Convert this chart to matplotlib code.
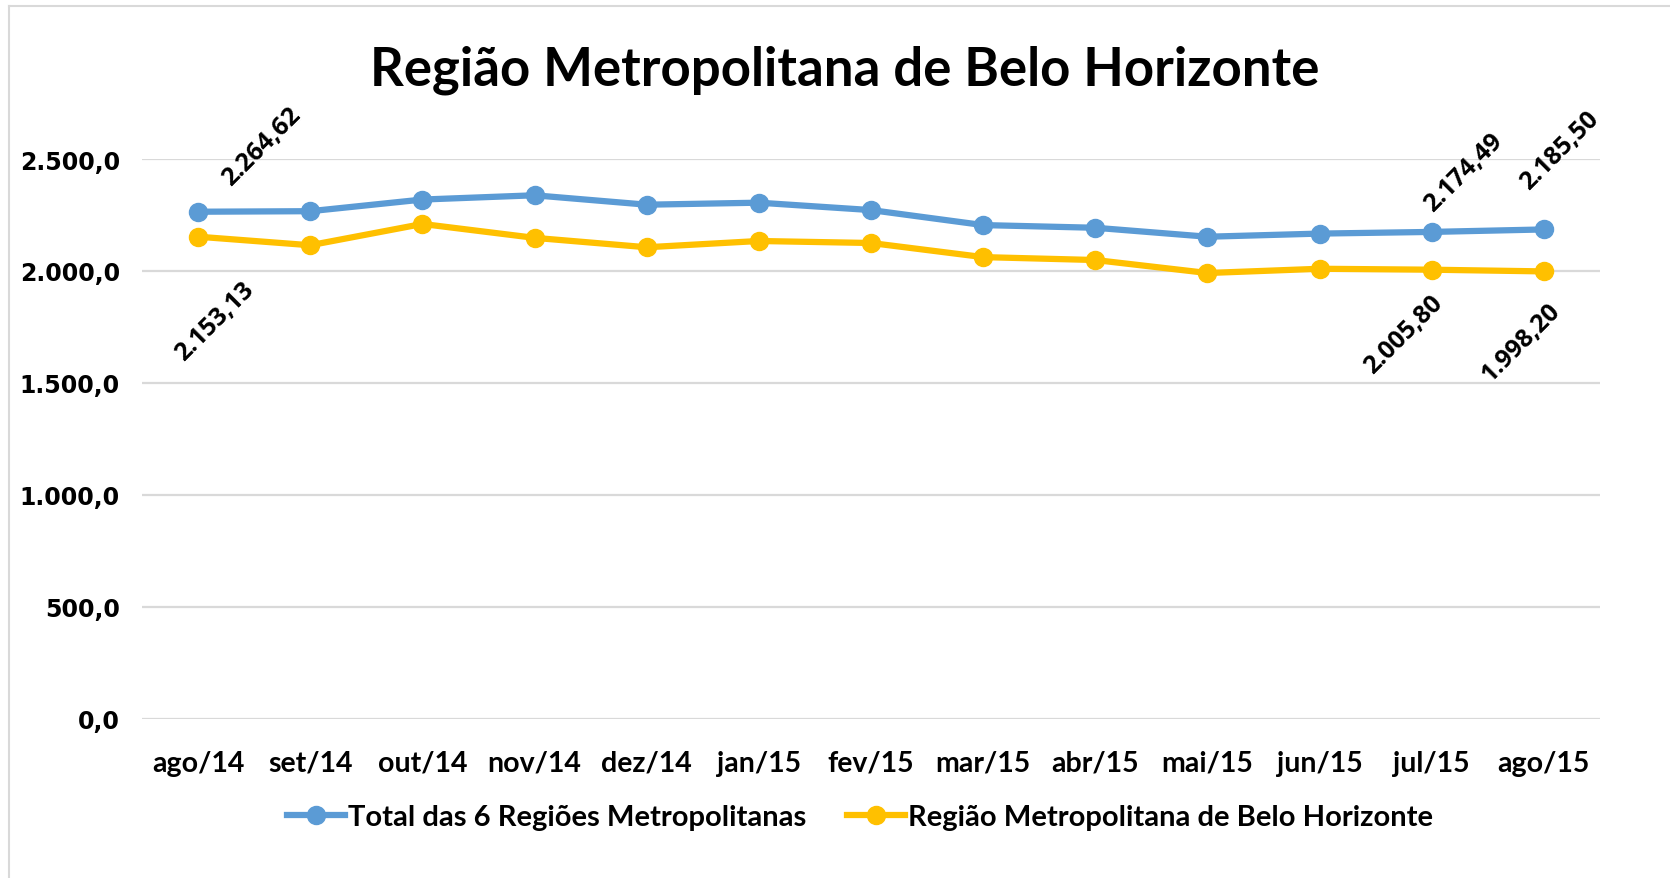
import matplotlib
matplotlib.use("Agg")
import matplotlib.pyplot as plt
from matplotlib.lines import Line2D
from matplotlib.ticker import FuncFormatter, MultipleLocator

# meses e séries (rendimento médio, R$)
meses = ["ago/14", "set/14", "out/14", "nov/14", "dez/14", "jan/15", "fev/15",
         "mar/15", "abr/15", "mai/15", "jun/15", "jul/15", "ago/15"]
total_6_rm = [2264.62, 2267, 2319, 2338, 2296, 2305, 2272,
              2205, 2193, 2153, 2167, 2174.49, 2185.50]
rm_bh = [2153.13, 2115, 2210, 2148, 2106, 2134, 2125,
         2062, 2049, 1991, 2010, 2005.80, 1998.20]

serie_nomes = ["Total das 6 Regiões Metropolitanas",
               "Região Metropolitana de Belo Horizonte"]
titulo = "Região Metropolitana de Belo Horizonte"

AZUL = "#5B9BD5"
AMARELO = "#FFC000"


def fmt_br(v, casas):
    s = f"{v:,.{casas}f}"
    return s.replace(",", "X").replace(".", ",").replace("X", ".")


fig = plt.figure(figsize=(16.7, 8.79), dpi=100)
ax = fig.add_axes([142 / 1670, 1 - 720 / 879, (1600 - 142) / 1670, (720 - 160) / 879])

x = list(range(len(meses)))
estilo = dict(lw=4.5, marker="o", markersize=13, solid_capstyle="round", zorder=3)
ax.plot(x, total_6_rm, color=AZUL, **estilo)
ax.plot(x, rm_bh, color=AMARELO, **estilo)

ax.set_xlim(-0.5, len(meses) - 0.5)
ax.set_ylim(0, 2500)
ax.yaxis.set_major_locator(MultipleLocator(500))
ax.yaxis.set_major_formatter(FuncFormatter(lambda v, p: fmt_br(v, 1)))
ax.set_xticks(x)
ax.set_xticklabels(meses, fontfamily="Lato", fontweight="bold", fontsize=20.5)
for t in ax.get_yticklabels():
    t.set_fontfamily("DejaVu Sans")
    t.set_fontweight("bold")
    t.set_fontsize(17)
ax.tick_params(axis="both", length=0)
ax.tick_params(axis="x", pad=22)
ax.tick_params(axis="y", pad=16)
ax.grid(axis="y", color="#D9D9D9", lw=1.6, zorder=0)
for sp in ax.spines.values():
    sp.set_visible(False)

# rótulos de dados nas pontas (deslocamento em pixels)
rotulos = [
    (0, total_6_rm, (64, 66)),
    (0, rm_bh, (17, -84)),
    (11, total_6_rm, (32, 60)),
    (12, total_6_rm, (16, 79)),
    (11, rm_bh, (-28, -64)),
    (12, rm_bh, (-23, -71)),
]
for i, serie, off in rotulos:
    ax.annotate(fmt_br(serie[i], 2), (i, serie[i]), xytext=off,
                textcoords="offset pixels", rotation=45,
                ha="center", va="center", fontsize=18,
                fontfamily="Open Sans", fontweight="bold", color="black")

fig.text(845 / 1670, 1 - 70 / 879, titulo, ha="center", va="center",
         fontsize=38, fontfamily="Lato", fontweight="bold")

handles = [Line2D([], [], color=c, lw=4.5, marker="o", markersize=13)
           for c in (AZUL, AMARELO)]
fig.legend(handles, serie_nomes, loc="center", bbox_to_anchor=(860 / 1670, 1 - 818 / 879),
           ncol=2, frameon=False, handlelength=2.0, handletextpad=0.1,
           columnspacing=1.4, prop=dict(family="Lato", weight="bold", size=21))

# moldura cinza (topo e esquerda)
fig.add_artist(Line2D([9 / 1670, 9 / 1670], [0, 1 - 7 / 879], color="#D9D9D9", lw=1.5,
                      transform=fig.transFigure))
fig.add_artist(Line2D([9 / 1670, 1], [1 - 7 / 879, 1 - 7 / 879], color="#D9D9D9", lw=1.5,
                      transform=fig.transFigure))

fig.savefig("out.png", dpi=100)
